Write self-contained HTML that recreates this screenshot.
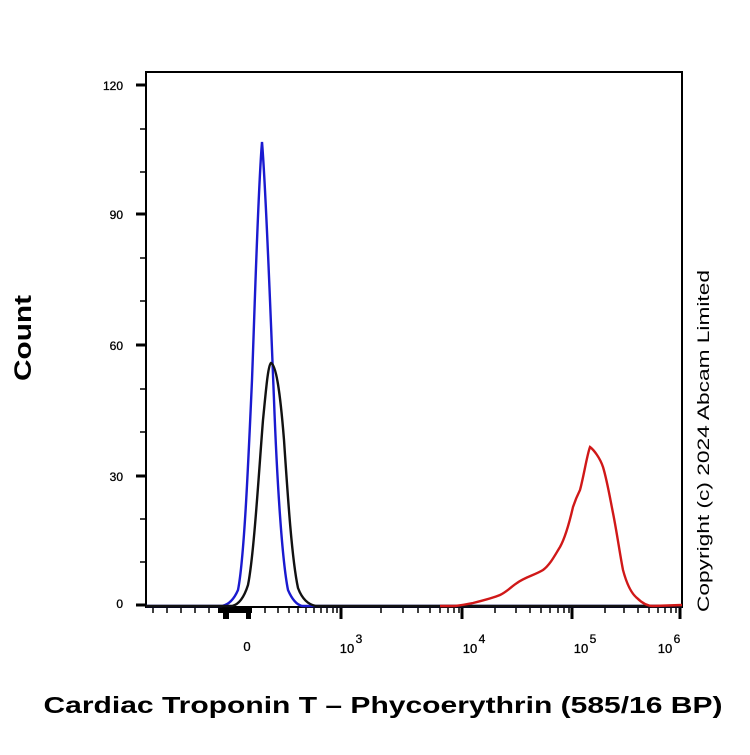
<!DOCTYPE html>
<html><head><style>
body{margin:0;background:#fff;width:750px;height:750px;overflow:hidden}
text{font-family:"Liberation Sans",Arial,sans-serif}
</style></head><body>
<svg width="750" height="750" viewBox="0 0 750 750">
<rect x="146" y="72" width="536" height="535" fill="none" stroke="#000" stroke-width="2"/>
<g stroke="#000" stroke-width="3">
<line x1="136" y1="85" x2="146" y2="85"/><line x1="136" y1="214" x2="146" y2="214"/><line x1="136" y1="345" x2="146" y2="345"/><line x1="136" y1="476" x2="146" y2="476"/><line x1="136" y1="605" x2="146" y2="605"/>
</g>
<g stroke="#000" stroke-width="1.5">
<line x1="140" y1="129" x2="146" y2="129"/><line x1="140" y1="172" x2="146" y2="172"/>
<line x1="140" y1="258" x2="146" y2="258"/><line x1="140" y1="301" x2="146" y2="301"/>
<line x1="140" y1="389" x2="146" y2="389"/><line x1="140" y1="432" x2="146" y2="432"/>
<line x1="140" y1="519" x2="146" y2="519"/><line x1="140" y1="562" x2="146" y2="562"/>
</g>
<g font-size="12" text-anchor="end" stroke="#000" stroke-width="0.3">
<text x="123" y="90">120</text><text x="123" y="219">90</text><text x="123" y="350">60</text><text x="123" y="481">30</text><text x="123" y="608">0</text>
</g>
<g stroke="#000" stroke-width="1.5">
<line x1="153" y1="607" x2="153" y2="613"/><line x1="167" y1="607" x2="167" y2="613"/><line x1="181" y1="607" x2="181" y2="613"/><line x1="195" y1="607" x2="195" y2="613"/><line x1="209" y1="607" x2="209" y2="613"/>
<line x1="265" y1="607" x2="265" y2="613"/><line x1="278" y1="607" x2="278" y2="613"/><line x1="289" y1="607" x2="289" y2="613"/><line x1="298" y1="607" x2="298" y2="613"/><line x1="306" y1="607" x2="306" y2="613"/><line x1="314" y1="607" x2="314" y2="613"/><line x1="321" y1="607" x2="321" y2="613"/><line x1="327" y1="607" x2="327" y2="613"/><line x1="333" y1="607" x2="333" y2="613"/><line x1="337" y1="607" x2="337" y2="613"/>
<line x1="381" y1="607" x2="381" y2="613"/><line x1="403" y1="607" x2="403" y2="613"/><line x1="418" y1="607" x2="418" y2="613"/><line x1="430" y1="607" x2="430" y2="613"/><line x1="440" y1="607" x2="440" y2="613"/><line x1="448" y1="607" x2="448" y2="613"/><line x1="454" y1="607" x2="454" y2="613"/><line x1="459" y1="607" x2="459" y2="613"/>
<line x1="495" y1="607" x2="495" y2="613"/><line x1="516" y1="607" x2="516" y2="613"/><line x1="530" y1="607" x2="530" y2="613"/><line x1="541" y1="607" x2="541" y2="613"/><line x1="550" y1="607" x2="550" y2="613"/><line x1="558" y1="607" x2="558" y2="613"/><line x1="564" y1="607" x2="564" y2="613"/><line x1="569" y1="607" x2="569" y2="613"/>
<line x1="605" y1="607" x2="605" y2="613"/><line x1="624" y1="607" x2="624" y2="613"/><line x1="638" y1="607" x2="638" y2="613"/><line x1="649" y1="607" x2="649" y2="613"/><line x1="658" y1="607" x2="658" y2="613"/><line x1="665" y1="607" x2="665" y2="613"/><line x1="671" y1="607" x2="671" y2="613"/><line x1="676" y1="607" x2="676" y2="613"/>
</g>
<rect x="218" y="607" width="34" height="6" fill="#000"/>
<rect x="223" y="607" width="6" height="12" fill="#000"/><rect x="246" y="607" width="5" height="12" fill="#000"/>
<g stroke="#000" stroke-width="3">
<line x1="341" y1="607" x2="341" y2="619"/><line x1="462" y1="607" x2="462" y2="619"/><line x1="572" y1="607" x2="572" y2="619"/><line x1="680" y1="607" x2="680" y2="619"/>
</g>
<g font-size="13" text-anchor="middle" stroke="#000" stroke-width="0.3">
<text x="247" y="651">0</text>
<text x="347" y="653">10</text><text x="359" y="643" font-size="12">3</text>
<text x="470" y="653">10</text><text x="482" y="643" font-size="12">4</text>
<text x="581" y="653">10</text><text x="593" y="643" font-size="12">5</text>
<text x="665" y="653">10</text><text x="677" y="643" font-size="12">6</text>
</g>
<path d="M146,606 L222,606 Q232,604 238,590 C244,560 248,470 252,380 C255,300 258,190 262,142 C266,190 270,300 274,400 C277,480 282,560 288,590 Q294,604 302,606 L682,606" fill="none" stroke="#1a1ad0" stroke-width="2.4"/>
<path d="M146,606 L232,606 Q242,604 248,585 C254,555 259,470 263,420 C266,390 268,365 271,363 C276,365 280,390 284,440 C288,500 292,560 298,588 Q304,604 316,606 L682,606" fill="none" stroke="#111" stroke-width="2.4"/>
<path d="M440,606 L455,606 C463,605 468,604 473,603 C485,600 493,598 500,595 C508,591 512,586 517,583 C525,577 535,575 543,570 C550,565 555,555 560,547 C565,538 570,520 573,507 C576,498 578,494 580,490 C584,475 587,455 590,447 C594,450 600,458 603,467 C607,480 610,498 613,513 C617,533 620,555 623,570 C627,585 632,594 637,598 C643,604 648,606 653,606 L682,605" fill="none" stroke="#d01818" stroke-width="2.4"/>
<text x="31" y="338" font-size="24" font-weight="bold" text-anchor="middle" textLength="86" lengthAdjust="spacingAndGlyphs" transform="rotate(-90 31 338)">Count</text>
<text x="383" y="713" font-size="23" font-weight="bold" text-anchor="middle" textLength="679" lengthAdjust="spacingAndGlyphs">Cardiac Troponin T – Phycoerythrin (585/16 BP)</text>
<text x="709" y="441" font-size="17" text-anchor="middle" textLength="342" lengthAdjust="spacingAndGlyphs" transform="rotate(-90 709 441)">Copyright (c) 2024 Abcam Limited</text>
</svg>
</body></html>
